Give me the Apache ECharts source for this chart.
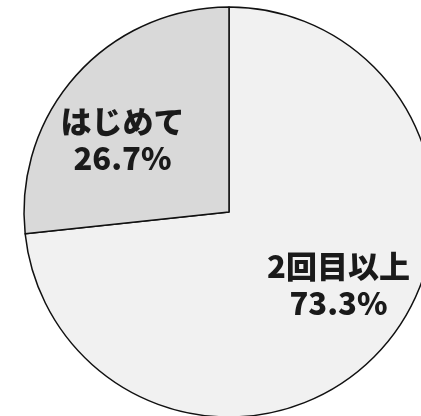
<!DOCTYPE html>
<html>
<head>
<meta charset="utf-8">
<script src="https://cdn.jsdelivr.net/npm/echarts@6/dist/echarts.min.js"></script>
<style>
  html, body { margin: 0; padding: 0; background: #fff; }
  #main { width: 421px; height: 416px; }
</style>
</head>
<body>
<div id="main"></div>
<script>
// 回答の内訳
var categories = ['2回目以上', 'はじめて'];
var percents = [73.3, 26.7];
var sliceColors = ['#f1f1f1', '#d9d9d9'];

var chart = echarts.init(document.getElementById('main'));

// ラベルの位置ずらし（元図に合わせる）
var labelShift = [[31, 2], [-28, -2]];

var option = {
    animation: false,
    series: [{
        type: 'pie',
        center: [229, 212],
        radius: 205,
        startAngle: 90,
        clockwise: true,
        itemStyle: {
            borderColor: '#111',
            borderWidth: 1.5
        },
        label: {
            show: true,
            position: 'inside',
            formatter: function (p) {
                return p.name + '\n' + p.value.toFixed(1) + '%';
            },
            color: '#1a1a1a',
            fontFamily: 'Noto Sans CJK JP',
            fontWeight: 900,
            fontSize: 31,
            lineHeight: 37,
            align: 'center'
        },
        labelLayout: function (params) {
            var s = labelShift[params.dataIndex];
            return { dx: s[0], dy: s[1] };
        },
        emphasis: { disabled: true },
        data: categories.map(function (c, i) {
            return { name: c, value: percents[i], itemStyle: { color: sliceColors[i] } };
        })
    }]
};
chart.setOption(option);
</script>
</body>
</html>
